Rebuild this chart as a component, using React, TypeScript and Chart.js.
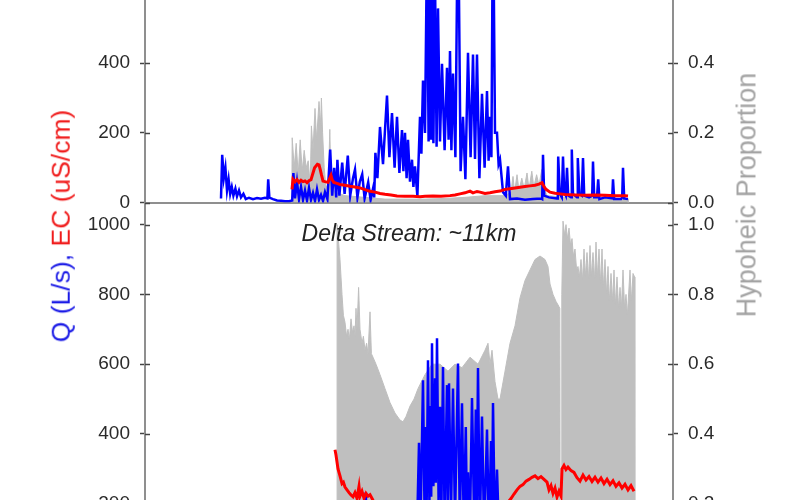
import { useEffect, useRef } from "react";
import { Chart, registerables } from "chart.js";
Chart.register(...registerables);

type Pt = [number, number];

// x = day of season; left axis = Q (L/s) / EC (uS/cm); right axis = hyporheic proportion
const dayMin = 0;
const dayMax = 132;

const upperLeftTicks = [0, 200, 400, 600];
const upperRightTicks = [0, 0.2, 0.4, 0.6];
const lowerLeftTicks = [0, 200, 400, 600, 800, 1000];
const lowerRightTicks = [0, 0.2, 0.4, 0.6, 0.8, 1.0];

const panelTitle = "Delta Stream: ~11km";
const leftLabelQ = "Q (L/s),";
const leftLabelEC = " EC (uS/cm)";
const rightLabel = "Hypoheic Proportion";

const upperQ: Pt[] = [
  [19.0, 12], [19.3, 137], [19.7, 70], [20.1, 100], [20.5, 35], [20.9, 67], [21.3, 25], [21.7, 45],
  [22.1, 20], [22.6, 40], [23.0, 18], [23.5, 35], [24.0, 15], [24.6, 25], [25.2, 10], [26.0, 14],
  [27.0, 10], [28.0, 13], [29.0, 11], [30.0, 14], [30.6, 12], [30.8, 67], [31.1, 14], [32.0, 10],
  [33.0, 6], [34.0, 5], [35.0, 4], [36.0, 4], [36.8, 6], [37.1, 85], [37.5, 12], [38.0, 60],
  [38.5, 10], [39.0, 45], [39.5, 8], [40.0, 35], [40.5, 6], [41.0, 42], [41.5, 8], [42.0, 28],
  [42.5, 5], [43.0, 38], [43.5, 8], [44.0, 22], [44.5, 5], [45.0, 30], [45.6, 10], [46.3, 152],
  [46.8, 20], [47.3, 100], [47.8, 15], [48.1, 123], [48.6, 20], [49.3, 115], [49.9, 25], [50.7, 135],
  [51.3, 20], [52.0, 70], [52.5, 95], [53.1, 15], [53.7, 60], [54.3, 81], [54.9, 12], [55.8, 58],
  [56.4, 8], [57.0, 40], [57.3, 15], [57.6, 143], [58.1, 70], [58.75, 217], [59.5, 110], [60.5, 307],
  [61.1, 130], [61.75, 257], [62.4, 100], [63.0, 246], [63.6, 85], [64.25, 208], [64.6, 90], [65.0, 200],
  [65.4, 70], [65.75, 180], [66.25, 60], [66.75, 123], [67.1, 45], [67.5, 104], [68.1, 18], [68.75, 246],
  [69.1, 140], [69.5, 350], [70.0, 200], [70.5, 750], [70.9, 175], [71.25, 680], [71.5, 180], [71.75, 800],
  [72.1, 170], [72.5, 650], [72.9, 160], [73.25, 557], [73.75, 175], [74.25, 398], [74.9, 150], [75.5, 387],
  [75.9, 180], [76.25, 435], [76.6, 150], [77.0, 370], [77.6, 130], [78.25, 900], [78.9, 90], [79.5, 246],
  [80.1, 67], [80.75, 430], [81.4, 130], [82.0, 425], [82.5, 125], [83.0, 425], [83.6, 70], [84.25, 312],
  [84.9, 100], [85.5, 320], [85.9, 120], [86.25, 246], [86.6, 130], [87.0, 900], [87.5, 200], [88.0, 200],
  [88.4, 110], [88.75, 123], [89.5, 30], [90.2, 20], [90.75, 104], [91.25, 10], [93.0, 12], [95.0, 8],
  [97.0, 10], [99.0, 12], [99.3, 10], [99.5, 137], [99.8, 20], [101.0, 15], [103.0, 12], [103.2, 20],
  [103.3, 132], [103.7, 25], [104.2, 15], [104.5, 132], [104.8, 30], [105.2, 20], [105.5, 100], [105.8, 20],
  [106.5, 15], [106.7, 152], [107.0, 25], [108.0, 15], [108.2, 128], [108.6, 25], [109.2, 20], [109.5, 128],
  [109.8, 20], [111.0, 15], [111.8, 20], [112.0, 118], [112.3, 15], [113.0, 15], [113.3, 67], [113.6, 10],
  [115.0, 15], [116.8, 12], [117.0, 67], [117.3, 10], [119.0, 10], [119.3, 15], [119.5, 100], [119.8, 12],
  [120.75, 10],
];

const upperEC: Pt[] = [
  [36.75, 38], [37.0, 67], [37.5, 60], [38.0, 66], [38.5, 58], [39.0, 64], [39.5, 60], [40.0, 62],
  [40.5, 57], [41.0, 63], [41.5, 66], [42.0, 85], [42.4, 100], [42.75, 105], [43.1, 110], [43.5, 108],
  [43.8, 95], [44.1, 80], [44.5, 62], [45.0, 60], [45.75, 58], [46.2, 70], [46.5, 78], [46.8, 65],
  [47.2, 58], [48.0, 55], [48.75, 52], [50.0, 50], [51.25, 47], [52.5, 45], [53.75, 42], [55.0, 37],
  [56.0, 33], [57.5, 30], [58.75, 26], [60.0, 24], [61.5, 22], [63.0, 19], [65.0, 18], [67.0, 18],
  [68.75, 17], [70.0, 18], [72.0, 19], [74.0, 18], [76.25, 20], [77.5, 22], [78.75, 25], [80.0, 28],
  [81.25, 33], [82.0, 28], [83.0, 32], [83.75, 30], [85.0, 26], [86.25, 28], [87.5, 31], [88.75, 33],
  [90.0, 38], [91.25, 40], [92.5, 42], [93.75, 44], [95.0, 46], [96.25, 48], [97.5, 50], [98.5, 53],
  [99.25, 57], [99.8, 45], [100.25, 38], [101.25, 30], [102.5, 27], [103.75, 25], [105.0, 23], [107.5, 22],
  [110.0, 21], [112.5, 22], [115.0, 21], [117.5, 20], [120.0, 20], [120.75, 19],
];

const upperHyp: Pt[] = [
  [36.7, 0], [36.8, 0.186], [37.3, 0.1], [37.8, 0.17], [38.3, 0.08], [38.8, 0.18], [39.3, 0.09], [39.8, 0.15],
  [40.3, 0.1], [40.8, 0.12], [41.3, 0.05], [41.6, 0.22], [42.0, 0.15], [42.5, 0.27], [42.9, 0.18], [43.5, 0.29],
  [43.9, 0.22], [44.1, 0.3], [44.4, 0.2], [44.8, 0.1], [45.2, 0.05], [45.8, 0.04], [46.2, 0.21], [46.5, 0.05],
  [47.5, 0.03], [50, 0.02], [55, 0.015], [60, 0.01], [65, 0.01], [70, 0.01], [75, 0.012], [80, 0.015],
  [85, 0.02], [90, 0.02], [91.5, 0.03], [92.0, 0.075], [92.4, 0.03], [93.0, 0.08], [93.5, 0.035], [94.2, 0.07],
  [94.8, 0.04], [95.5, 0.085], [96.0, 0.04], [96.7, 0.09], [97.2, 0.045], [97.9, 0.08], [98.5, 0.05], [99.2, 0.095],
  [99.8, 0.04], [100.5, 0.02], [105, 0.015], [110, 0.015], [115, 0.012], [120, 0.01], [120.75, 0.01], [120.8, 0],
];

const lowerQ: Pt[] = [
  [50.0, 40], [52.0, 60], [54.0, 80], [54.9, 100], [55.2, 233], [55.5, 90], [57.0, 70], [60.0, 50],
  [63.0, 40], [66.0, 60], [68.0, 120], [68.5, 375], [68.9, 150], [69.5, 554], [69.9, 160], [70.2, 420],
  [70.4, 180], [70.75, 611], [71.1, 200], [71.4, 480], [71.55, 220], [71.75, 660], [72.1, 250], [72.5, 560],
  [72.7, 260], [73.0, 674], [73.4, 200], [73.75, 478], [74.1, 180], [74.5, 592], [74.9, 150], [75.5, 540],
  [75.7, 200], [76.0, 545], [76.5, 170], [77.0, 530], [77.5, 150], [78.25, 602], [78.7, 140], [79.25, 488],
  [79.7, 120], [80.2, 420], [80.5, 130], [80.75, 290], [81.2, 110], [81.75, 503], [82.3, 140], [82.7, 470],
  [82.9, 130], [83.25, 589], [83.7, 120], [84.25, 450], [84.8, 110], [85.5, 413], [86.0, 100], [86.5, 380],
  [86.7, 110], [87.0, 489], [87.5, 100], [88.0, 298], [88.4, 150], [88.75, 200], [89.2, 60], [90.0, 40],
  [92.0, 20], [95.0, 15], [100.0, 12], [105.0, 10], [110.0, 10], [115.0, 8], [122.0, 8],
];

const lowerEC: Pt[] = [
  [47.5, 355], [47.75, 340], [48.25, 300], [48.75, 280], [49.25, 258], [49.6, 262], [50.0, 248], [50.5, 240],
  [51.0, 232], [51.5, 225], [52.0, 220], [52.5, 232], [53.0, 216], [53.5, 250], [53.75, 222], [54.25, 236],
  [54.75, 216], [55.25, 230], [55.75, 222], [56.25, 226], [57.0, 210], [57.75, 198], [59.0, 185], [61.0, 175],
  [63.0, 168], [65.0, 160], [67.0, 155], [69.0, 150], [71.0, 148], [73.0, 146], [75.0, 150], [77.0, 152],
  [79.0, 158], [81.0, 162], [83.0, 168], [85.0, 172], [87.0, 178], [88.75, 185], [90.0, 192], [90.75, 205],
  [91.5, 215], [92.25, 228], [93.0, 240], [93.75, 250], [94.5, 255], [95.25, 265], [96.0, 270], [96.75, 276],
  [97.5, 280], [98.25, 272], [99.0, 278], [99.75, 270], [100.5, 262], [101.0, 240], [101.5, 252], [102.0, 230],
  [102.5, 245], [103.0, 220], [103.5, 236], [104.0, 222], [104.25, 300], [104.75, 310], [105.25, 298], [105.75, 305],
  [106.5, 295], [107.25, 290], [108.0, 275], [108.75, 265], [109.5, 282], [110.25, 268], [111.0, 278], [111.75, 264],
  [112.5, 276], [113.25, 262], [114.0, 274], [114.75, 258], [115.5, 270], [116.25, 255], [117.0, 266], [117.75, 250],
  [118.5, 260], [119.25, 245], [120.0, 256], [120.75, 240], [121.5, 252], [122.25, 236],
];

const lowerHyp: Pt[] = [
  [48.0, 0], [48.02, 1.0], [48.25, 0.97], [48.75, 0.9], [49.25, 0.8], [49.6, 0.74], [50.0, 0.72], [50.4, 0.68],
  [50.75, 0.7], [51.1, 0.67], [51.5, 0.73], [51.9, 0.69], [52.25, 0.71], [52.5, 0.68], [52.75, 0.76], [53.0, 0.7],
  [53.4, 0.82], [53.75, 0.7], [54.25, 0.66], [54.6, 0.68], [55.0, 0.64], [55.4, 0.66], [55.75, 0.63], [56.25, 0.75],
  [56.6, 0.63], [57.0, 0.62], [57.75, 0.6], [58.75, 0.57], [60.0, 0.53], [61.25, 0.49], [62.5, 0.46], [63.75, 0.44],
  [64.5, 0.435], [65.25, 0.45], [66.25, 0.48], [67.25, 0.5], [68.25, 0.53], [70.0, 0.57], [71.75, 0.6], [73.75, 0.6],
  [75.75, 0.58], [77.5, 0.6], [79.25, 0.59], [81.25, 0.62], [83.25, 0.6], [85.0, 0.64], [85.75, 0.66], [86.25, 0.6],
  [86.75, 0.64], [87.5, 0.55], [88.25, 0.5], [88.75, 0.5], [90.0, 0.58], [91.25, 0.66], [92.5, 0.71], [93.75, 0.79],
  [95.0, 0.84], [96.25, 0.87], [97.5, 0.9], [98.75, 0.91], [100.0, 0.9], [100.75, 0.88], [101.25, 0.83], [102.0, 0.8],
  [102.75, 0.78], [103.25, 0.77], [103.7, 0.76], [103.8, 0], [104.1, 0], [104.2, 0.8], [104.5, 1.01], [104.9, 0.97],
  [105.25, 1.0], [105.6, 0.96], [106.0, 0.99], [106.4, 0.94], [106.75, 0.96], [107.1, 0.91], [107.5, 0.93], [107.9, 0.87],
  [108.25, 0.88], [108.6, 0.85], [109.0, 0.9], [109.4, 0.84], [109.75, 0.93], [110.1, 0.85], [110.5, 0.92], [110.9, 0.84],
  [111.25, 0.94], [111.6, 0.85], [112.0, 0.92], [112.4, 0.84], [112.75, 0.95], [113.1, 0.85], [113.5, 0.93], [113.9, 0.83],
  [114.25, 0.93], [114.6, 0.82], [115.0, 0.9], [115.4, 0.8], [115.75, 0.88], [116.1, 0.78], [116.5, 0.86], [116.9, 0.78],
  [117.25, 0.87], [117.6, 0.77], [118.0, 0.85], [118.4, 0.76], [118.75, 0.82], [119.1, 0.76], [119.5, 0.87], [119.9, 0.76],
  [120.25, 0.8], [120.6, 0.74], [121.25, 0.87], [121.6, 0.78], [122.0, 0.86], [122.4, 0.85], [122.45, 0],
];

const FONT = "'Liberation Sans', Arial, Helvetica, sans-serif";
const BLUE = "#0000ff";
const RED = "#ff0000";
const GRAY = "#bfbfbf";
const AXIS = "#8f8f8f";

const innerTicks = {
  id: "innerTicks",
  afterDraw(chart: any) {
    const ctx = chart.ctx;
    const area = chart.chartArea;
    ctx.save();
    ctx.strokeStyle = "#444";
    ctx.lineWidth = 1.5;
    ["yL", "yR"].forEach((id) => {
      const s = chart.scales[id];
      if (!s) return;
      const x0 = id === "yL" ? area.left : area.right;
      const dir = id === "yL" ? 1 : -1;
      s.ticks.forEach((t: any) => {
        const y = Math.round(s.getPixelForValue(t.value)) + 0.5;
        ctx.beginPath();
        ctx.moveTo(x0, y);
        ctx.lineTo(x0 + dir * 5, y);
        ctx.stroke();
      });
    });
    ctx.restore();
  },
};

function toXY(pts: Pt[]) {
  return pts.map(([x, y]) => ({ x, y }));
}

function makeConfig(
  q: Pt[], ec: Pt[], hyp: Pt[],
  leftMax: number, rightMax: number,
  leftTicks: number[], rightTicks: number[],
  showX: boolean
): any {
  const tickFont = { family: FONT, size: 19 };
  return {
    type: "line",
    data: {
      datasets: [
        { label: "EC", data: toXY(ec), yAxisID: "yL", borderColor: RED, borderWidth: 3, pointRadius: 0, order: 0, fill: false },
        { label: "Q", data: toXY(q), yAxisID: "yL", borderColor: BLUE, borderWidth: 2.5, pointRadius: 0, order: 1, fill: false },
        { label: "Hyporheic", data: toXY(hyp), yAxisID: "yR", borderColor: GRAY, backgroundColor: GRAY, borderWidth: 1, pointRadius: 0, order: 2, fill: "origin" },
      ],
    },
    options: {
      animation: false,
      responsive: false,
      events: [],
      layout: { padding: { top: 20, bottom: 20, left: 0, right: 0 } },
      plugins: { legend: { display: false }, tooltip: { enabled: false }, title: { display: false } },
      scales: {
        x: {
          type: "linear", min: dayMin, max: dayMax, display: showX,
          ticks: { display: false },
          grid: { display: false, drawTicks: false },
          border: { display: true, color: AXIS, width: 2 },
        },
        yL: {
          type: "linear", position: "left", min: 0, max: leftMax,
          afterBuildTicks: (s: any) => { s.ticks = leftTicks.map((v) => ({ value: v })); },
          afterFit: (s: any) => { s.width = 145; },
          ticks: { font: tickFont, color: "#2a2a2a", padding: 10, callback: (v: any) => String(v) },
          grid: { display: true, drawOnChartArea: false, drawTicks: true, tickLength: 5, tickColor: "#444", tickWidth: 1.5 },
          border: { display: true, color: AXIS, width: 2 },
        },
        yR: {
          type: "linear", position: "right", min: 0, max: rightMax,
          afterBuildTicks: (s: any) => { s.ticks = rightTicks.map((v) => ({ value: v })); },
          afterFit: (s: any) => { s.width = 127; },
          ticks: { font: tickFont, color: "#2a2a2a", padding: 10, callback: (v: any) => Number(v).toFixed(1) },
          grid: { display: true, drawOnChartArea: false, drawTicks: true, tickLength: 5, tickColor: "#444", tickWidth: 1.5 },
          border: { display: true, color: AXIS, width: 2 },
        },
      },
    },
    plugins: [innerTicks],
  };
}

export default function App() {
  const topRef = useRef<HTMLCanvasElement | null>(null);
  const botRef = useRef<HTMLCanvasElement | null>(null);

  useEffect(() => {
    const top = new Chart(topRef.current as HTMLCanvasElement,
      makeConfig(upperQ, upperEC, upperHyp, 600, 0.6, upperLeftTicks, upperRightTicks, true));
    const bot = new Chart(botRef.current as HTMLCanvasElement,
      makeConfig(lowerQ, lowerEC, lowerHyp, 1055, 1.055, lowerLeftTicks, lowerRightTicks, false));
    return () => { top.destroy(); bot.destroy(); };
  }, []);

  return (
    <div style={{ position: "fixed", left: 0, top: 0, width: 800, height: 500, overflow: "hidden", background: "#fff" }}>
      <canvas ref={botRef} width={800} height={411} style={{ position: "absolute", left: 0, top: 184, width: 800, height: 411 }} />
      <canvas ref={topRef} width={800} height={252} style={{ position: "absolute", left: 0, top: -28, width: 800, height: 252 }} />
      <div style={{
        position: "absolute", left: 409, top: 233, transform: "translate(-50%, -50%)",
        font: `italic 23px ${FONT}`, lineHeight: 1, color: "#222", whiteSpace: "nowrap",
      }}>{panelTitle}</div>
      <div style={{
        position: "absolute", left: 61, top: 226, transform: "translate(-50%, -50%) rotate(-90deg)",
        font: `26.5px ${FONT}`, lineHeight: 1, whiteSpace: "nowrap",
      }}>
        <span style={{ color: "#1a1ae6" }}>{leftLabelQ}</span>
        <span style={{ color: "#f01c1c" }}>{leftLabelEC}</span>
      </div>
      <div style={{
        position: "absolute", left: 747, top: 195, transform: "translate(-50%, -50%) rotate(-90deg)",
        font: `27px ${FONT}`, lineHeight: 1, color: "#a3a3a3", whiteSpace: "nowrap",
      }}>{rightLabel}</div>
    </div>
  );
}
